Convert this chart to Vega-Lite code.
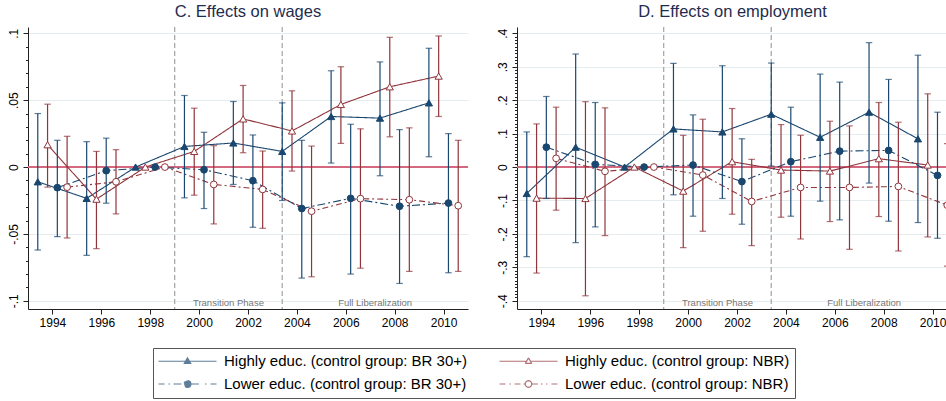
{
  "$schema": "https://vega.github.io/schema/vega-lite/v6.json",
  "padding": {"left": 7, "top": 3, "right": 0, "bottom": 0},
  "background": "white",
  "datasets": {
    "wages": [
      {"group": "Highly educ. (control group: BR 30+)", "year": 1993.4, "est": -0.011, "lo": -0.062, "hi": 0.04},
      {"group": "Highly educ. (control group: NBR)", "year": 1993.8, "est": 0.0167, "lo": -0.015, "hi": 0.047},
      {"group": "Lower educ. (control group: BR 30+)", "year": 1994.2, "est": -0.0154, "lo": -0.052, "hi": 0.02},
      {"group": "Lower educ. (control group: NBR)", "year": 1994.6, "est": -0.015, "lo": -0.053, "hi": 0.023},
      {"group": "Highly educ. (control group: BR 30+)", "year": 1995.4, "est": -0.0234, "lo": -0.066, "hi": 0.019},
      {"group": "Highly educ. (control group: NBR)", "year": 1995.8, "est": -0.024, "lo": -0.061, "hi": 0.0117},
      {"group": "Lower educ. (control group: BR 30+)", "year": 1996.2, "est": -0.0027, "lo": -0.027, "hi": 0.0216},
      {"group": "Lower educ. (control group: NBR)", "year": 1996.6, "est": -0.011, "lo": -0.035, "hi": 0.013},
      {"group": "Highly educ. (control group: BR 30+)", "year": 1997.4, "est": 0},
      {"group": "Highly educ. (control group: NBR)", "year": 1997.8, "est": 0},
      {"group": "Lower educ. (control group: BR 30+)", "year": 1998.2, "est": 0},
      {"group": "Lower educ. (control group: NBR)", "year": 1998.6, "est": 0},
      {"group": "Highly educ. (control group: BR 30+)", "year": 1999.4, "est": 0.0154, "lo": -0.023, "hi": 0.0535},
      {"group": "Highly educ. (control group: NBR)", "year": 1999.8, "est": 0.0117, "lo": -0.021, "hi": 0.044},
      {"group": "Lower educ. (control group: BR 30+)", "year": 2000.2, "est": -0.002, "lo": -0.031, "hi": 0.026},
      {"group": "Lower educ. (control group: NBR)", "year": 2000.6, "est": -0.013, "lo": -0.0425, "hi": 0.016},
      {"group": "Highly educ. (control group: BR 30+)", "year": 2001.4, "est": 0.018, "lo": -0.013, "hi": 0.049},
      {"group": "Highly educ. (control group: NBR)", "year": 2001.8, "est": 0.036, "lo": 0.0107, "hi": 0.061},
      {"group": "Lower educ. (control group: BR 30+)", "year": 2002.2, "est": -0.0102, "lo": -0.045, "hi": 0.024},
      {"group": "Lower educ. (control group: NBR)", "year": 2002.6, "est": -0.0167, "lo": -0.0458, "hi": 0.012},
      {"group": "Highly educ. (control group: BR 30+)", "year": 2003.4, "est": 0.0117, "lo": -0.025, "hi": 0.048},
      {"group": "Highly educ. (control group: NBR)", "year": 2003.8, "est": 0.027, "lo": -0.003, "hi": 0.057},
      {"group": "Lower educ. (control group: BR 30+)", "year": 2004.2, "est": -0.031, "lo": -0.083, "hi": 0.02},
      {"group": "Lower educ. (control group: NBR)", "year": 2004.6, "est": -0.033, "lo": -0.082, "hi": 0.0157},
      {"group": "Highly educ. (control group: BR 30+)", "year": 2005.4, "est": 0.0378, "lo": 0.003, "hi": 0.072},
      {"group": "Highly educ. (control group: NBR)", "year": 2005.8, "est": 0.0468, "lo": 0.0177, "hi": 0.075},
      {"group": "Lower educ. (control group: BR 30+)", "year": 2006.2, "est": -0.0234, "lo": -0.08, "hi": 0.032},
      {"group": "Lower educ. (control group: NBR)", "year": 2006.6, "est": -0.0236, "lo": -0.0756, "hi": 0.0286},
      {"group": "Highly educ. (control group: BR 30+)", "year": 2007.4, "est": 0.0366, "lo": -0.0065, "hi": 0.0786},
      {"group": "Highly educ. (control group: NBR)", "year": 2007.8, "est": 0.06, "lo": 0.0226, "hi": 0.097},
      {"group": "Lower educ. (control group: BR 30+)", "year": 2008.2, "est": -0.0293, "lo": -0.087, "hi": 0.028},
      {"group": "Lower educ. (control group: NBR)", "year": 2008.6, "est": -0.0244, "lo": -0.078, "hi": 0.0293},
      {"group": "Highly educ. (control group: BR 30+)", "year": 2009.4, "est": 0.048, "lo": 0.0077, "hi": 0.0888},
      {"group": "Highly educ. (control group: NBR)", "year": 2009.8, "est": 0.068, "lo": 0.0378, "hi": 0.098},
      {"group": "Lower educ. (control group: BR 30+)", "year": 2010.2, "est": -0.0269, "lo": -0.079, "hi": 0.025},
      {"group": "Lower educ. (control group: NBR)", "year": 2010.6, "est": -0.0289, "lo": -0.078, "hi": 0.02}
    ],
    "employment": [
      {"group": "Highly educ. (control group: BR 30+)", "year": 1993.4, "est": -0.079, "lo": -0.268, "hi": 0.105},
      {"group": "Highly educ. (control group: NBR)", "year": 1993.8, "est": -0.093, "lo": -0.317, "hi": 0.129},
      {"group": "Lower educ. (control group: BR 30+)", "year": 1994.2, "est": 0.0595, "lo": -0.094, "hi": 0.211},
      {"group": "Lower educ. (control group: NBR)", "year": 1994.6, "est": 0.026, "lo": -0.129, "hi": 0.179},
      {"group": "Highly educ. (control group: BR 30+)", "year": 1995.4, "est": 0.0595, "lo": -0.226, "hi": 0.338},
      {"group": "Highly educ. (control group: NBR)", "year": 1995.8, "est": -0.094, "lo": -0.385, "hi": 0.1955},
      {"group": "Lower educ. (control group: BR 30+)", "year": 1996.2, "est": 0.008, "lo": -0.179, "hi": 0.193},
      {"group": "Lower educ. (control group: NBR)", "year": 1996.6, "est": -0.0128, "lo": -0.205, "hi": 0.177},
      {"group": "Highly educ. (control group: BR 30+)", "year": 1997.4, "est": 0},
      {"group": "Highly educ. (control group: NBR)", "year": 1997.8, "est": 0},
      {"group": "Lower educ. (control group: BR 30+)", "year": 1998.2, "est": 0},
      {"group": "Lower educ. (control group: NBR)", "year": 1998.6, "est": 0},
      {"group": "Highly educ. (control group: BR 30+)", "year": 1999.4, "est": 0.114, "lo": -0.083, "hi": 0.31},
      {"group": "Highly educ. (control group: NBR)", "year": 1999.8, "est": -0.072, "lo": -0.241, "hi": 0.095},
      {"group": "Lower educ. (control group: BR 30+)", "year": 2000.2, "est": 0.006, "lo": -0.147, "hi": 0.156},
      {"group": "Lower educ. (control group: NBR)", "year": 2000.6, "est": -0.024, "lo": -0.192, "hi": 0.143},
      {"group": "Highly educ. (control group: BR 30+)", "year": 2001.4, "est": 0.105, "lo": -0.094, "hi": 0.303},
      {"group": "Highly educ. (control group: NBR)", "year": 2001.8, "est": 0.016, "lo": -0.141, "hi": 0.175},
      {"group": "Lower educ. (control group: BR 30+)", "year": 2002.2, "est": -0.0435, "lo": -0.171, "hi": 0.0845},
      {"group": "Lower educ. (control group: NBR)", "year": 2002.6, "est": -0.103, "lo": -0.235, "hi": 0.023},
      {"group": "Highly educ. (control group: BR 30+)", "year": 2003.4, "est": 0.158, "lo": 0.003, "hi": 0.311},
      {"group": "Highly educ. (control group: NBR)", "year": 2003.8, "est": -0.009, "lo": -0.15, "hi": 0.127},
      {"group": "Lower educ. (control group: BR 30+)", "year": 2004.2, "est": 0.016, "lo": -0.147, "hi": 0.179},
      {"group": "Lower educ. (control group: NBR)", "year": 2004.6, "est": -0.061, "lo": -0.215, "hi": 0.095},
      {"group": "Highly educ. (control group: BR 30+)", "year": 2005.4, "est": 0.089, "lo": -0.102, "hi": 0.278},
      {"group": "Highly educ. (control group: NBR)", "year": 2005.8, "est": -0.012, "lo": -0.163, "hi": 0.137},
      {"group": "Lower educ. (control group: BR 30+)", "year": 2006.2, "est": 0.0476, "lo": -0.158, "hi": 0.254},
      {"group": "Lower educ. (control group: NBR)", "year": 2006.6, "est": -0.061, "lo": -0.246, "hi": 0.123},
      {"group": "Highly educ. (control group: BR 30+)", "year": 2007.4, "est": 0.164, "lo": -0.048, "hi": 0.372},
      {"group": "Highly educ. (control group: NBR)", "year": 2007.8, "est": 0.025, "lo": -0.148, "hi": 0.193},
      {"group": "Lower educ. (control group: BR 30+)", "year": 2008.2, "est": 0.0497, "lo": -0.162, "hi": 0.262},
      {"group": "Lower educ. (control group: NBR)", "year": 2008.6, "est": -0.058, "lo": -0.251, "hi": 0.134},
      {"group": "Highly educ. (control group: BR 30+)", "year": 2009.4, "est": 0.0845, "lo": -0.166, "hi": 0.3345},
      {"group": "Highly educ. (control group: NBR)", "year": 2009.8, "est": 0.006, "lo": -0.209, "hi": 0.219},
      {"group": "Lower educ. (control group: BR 30+)", "year": 2010.2, "est": -0.025, "lo": -0.213, "hi": 0.164},
      {"group": "Lower educ. (control group: NBR)", "year": 2010.6, "est": -0.114, "lo": -0.296, "hi": 0.07}
    ],
    "phases": [
      {"label": "Transition Phase", "start": 1999, "mid": 2001.2},
      {"label": "Full Liberalization", "start": 2003.4, "mid": 2007.2}
    ],
    "zero": [{"v": 0}]
  },
  "hconcat": [
    {
      "width": 440,
      "height": 282,
      "title": {"text": "C. Effects on wages"},
      "resolve": {"axis": {"y": "independent"}},
      "layer": [
        {
          "data": {"name": "phases"},
          "mark": {"type": "rule", "strokeDash": [5, 3], "color": "#a9a9a9", "strokeWidth": 1.3},
          "encoding": {
            "x": {
              "field": "start", "type": "quantitative", "title": null,
              "scale": {"domain": [1993, 2011], "nice": false, "zero": false},
              "axis": {"values": [1994, 1996, 1998, 2000, 2002, 2004, 2006, 2008, 2010], "format": "d", "title": null, "grid": false, "tickSize": 5, "labelPadding": 3, "labelFlush": false}
            }
          }
        },
        {
          "data": {"name": "zero"},
          "mark": {"type": "rule", "color": "#d4687e", "strokeWidth": 2},
          "encoding": {
            "y": {
              "field": "v", "type": "quantitative",
              "scale": {"domain": [-0.1061, 0.1047], "nice": false, "zero": false},
              "axis": {"orient": "left", "values": [-0.09, -0.08, -0.07, -0.06, -0.04, -0.03, -0.02, -0.01, 0.01, 0.02, 0.03, 0.04, 0.06, 0.07, 0.08, 0.09], "labels": false, "domain": false, "grid": false, "tickSize": 2.5, "title": null}
            }
          }
        },
        {
          "data": {"name": "wages"},
          "mark": {"type": "line", "strokeWidth": 1.1},
          "encoding": {
            "x": {"field": "year", "type": "quantitative", "title": null},
            "y": {
              "field": "est", "type": "quantitative",
              "scale": {"domain": [-0.1061, 0.1047], "nice": false, "zero": false},
              "axis": {"orient": "left", "values": [-0.1, -0.05, 0, 0.05, 0.1], "labelExpr": "replace(toString(datum.value), '0.', '.')", "labelAngle": -90, "labelAlign": "center", "labelBaseline": "bottom", "labelPadding": 3, "tickSize": 5, "grid": true, "gridColor": "#e4ecef", "title": null}
            },
            "color": {
              "field": "group", "type": "nominal",
              "scale": {
                "domain": ["Highly educ. (control group: BR 30+)", "Highly educ. (control group: NBR)", "Lower educ. (control group: BR 30+)", "Lower educ. (control group: NBR)"],
                "range": ["#1a476f", "#90353b", "#1a476f", "#90353b"]
              },
              "legend": {
                "orient": "none", "legendX": 125, "legendY": 321, "title": null,
                "columns": 2, "direction": "horizontal",
                "labelFontSize": 15, "labelLimit": 500, "labelColor": "#000", "labelOffset": 29,
                "symbolSize": 16, "symbolStrokeWidth": 1.2, "symbolOffset": 21.5, "symbolOpacity": 1,
                "columnPadding": 29, "rowPadding": 7, "padding": 5.5, "strokeColor": "#555"
              }
            },
            "strokeDash": {
              "field": "group", "type": "nominal",
              "scale": {
                "domain": ["Highly educ. (control group: BR 30+)", "Highly educ. (control group: NBR)", "Lower educ. (control group: BR 30+)", "Lower educ. (control group: NBR)"],
                "range": [[1, 0], [1, 0], [8, 3, 2, 3], [6, 3, 2, 3]]
              },
              "legend": null
            }
          }
        },
        {
          "data": {"name": "wages"},
          "transform": [{"filter": "false"}],
          "mark": {"type": "point"},
          "encoding": {
            "x": {"field": "year", "type": "quantitative", "title": null},
            "y": {"field": "est", "type": "quantitative", "scale": {"domain": [-0.1061, 0.1047], "nice": false, "zero": false}, "axis": null},
            "shape": {
              "field": "group", "type": "nominal",
              "scale": {
                "domain": ["Highly educ. (control group: BR 30+)", "Highly educ. (control group: NBR)", "Lower educ. (control group: BR 30+)", "Lower educ. (control group: NBR)"],
                "range": [
                  "M-14.5,0H14.5M0,-1.7L1.6,1.1L-1.6,1.1Z",
                  "M-14.5,0H-1M1,0H14.5M0,-1.7L1.6,1.1M1.6,1.1L-1.6,1.1M-1.6,1.1L0,-1.7",
                  "M-14.5,0H-11.5M-9.5,0H-8.8M-7,0H-1.7M1.7,0H7M8.8,0H9.5M11.5,0H14.5M1.7,0A1.7,1.7,0,1,1,-1.7,0A1.7,1.7,0,1,1,1.7,0Z",
                  "M-14.5,0H-11.5M-9.5,0H-8.8M-7,0H-1.7M1.7,0H7M8.8,0H9.5M11.5,0H14.5M1.7,0L1.472,0.85M1.472,0.85L0.85,1.472M0.85,1.472L0,1.7M0,1.7L-0.85,1.472M-0.85,1.472L-1.472,0.85M-1.472,0.85L-1.7,0M-1.7,0L-1.472,-0.85M-1.472,-0.85L-0.85,-1.472M-0.85,-1.472L0,-1.7M0,-1.7L0.85,-1.472M0.85,-1.472L1.472,-0.85M1.472,-0.85L1.7,0"
                ]
              }
            }
          }
        },
        {
          "data": {"name": "wages"},
          "transform": [{"filter": "isValid(datum.lo)"}],
          "mark": {"type": "rule", "strokeWidth": 1.2},
          "encoding": {
            "x": {"field": "year", "type": "quantitative", "title": null},
            "y": {"field": "lo", "type": "quantitative", "scale": {"domain": [-0.1061, 0.1047], "nice": false, "zero": false}, "axis": null},
            "y2": {"field": "hi"},
            "color": {"field": "group", "type": "nominal"}
          }
        },
        {
          "data": {"name": "wages"},
          "transform": [{"filter": "isValid(datum.lo)"}],
          "mark": {"type": "tick", "orient": "horizontal", "size": 6.5, "thickness": 1.2},
          "encoding": {
            "x": {"field": "year", "type": "quantitative", "title": null},
            "y": {"field": "lo", "type": "quantitative", "scale": {"domain": [-0.1061, 0.1047], "nice": false, "zero": false}, "axis": null},
            "color": {"field": "group", "type": "nominal"}
          }
        },
        {
          "data": {"name": "wages"},
          "transform": [{"filter": "isValid(datum.lo)"}],
          "mark": {"type": "tick", "orient": "horizontal", "size": 6.5, "thickness": 1.2},
          "encoding": {
            "x": {"field": "year", "type": "quantitative", "title": null},
            "y": {"field": "hi", "type": "quantitative", "scale": {"domain": [-0.1061, 0.1047], "nice": false, "zero": false}, "axis": null},
            "color": {"field": "group", "type": "nominal"}
          }
        },
        {
          "data": {"name": "wages"},
          "transform": [{"filter": "indexof(datum.group, 'Highly') == 0"}],
          "mark": {"type": "point", "shape": "triangle-up", "filled": false, "size": 52, "strokeWidth": 1, "opacity": 1},
          "encoding": {
            "x": {"field": "year", "type": "quantitative", "title": null},
            "y": {"field": "est", "type": "quantitative", "scale": {"domain": [-0.1061, 0.1047], "nice": false, "zero": false}, "axis": null},
            "color": {"field": "group", "type": "nominal"},
            "fill": {
              "field": "group", "type": "nominal",
              "scale": {
                "domain": ["Highly educ. (control group: BR 30+)", "Highly educ. (control group: NBR)", "Lower educ. (control group: BR 30+)", "Lower educ. (control group: NBR)"],
                "range": ["#1a476f", "white", "#1a476f", "white"]
              }
            }
          }
        },
        {
          "data": {"name": "wages"},
          "transform": [{"filter": "indexof(datum.group, 'Lower') == 0"}],
          "mark": {"type": "point", "shape": "circle", "filled": false, "size": 46, "strokeWidth": 1, "opacity": 1},
          "encoding": {
            "x": {"field": "year", "type": "quantitative", "title": null},
            "y": {"field": "est", "type": "quantitative", "scale": {"domain": [-0.1061, 0.1047], "nice": false, "zero": false}, "axis": null},
            "color": {"field": "group", "type": "nominal"},
            "fill": {"field": "group", "type": "nominal"}
          }
        },
        {
          "data": {"name": "phases"},
          "mark": {"type": "text", "fontSize": 9.5, "color": "#777", "baseline": "bottom", "dy": -1},
          "encoding": {
            "x": {"field": "mid", "type": "quantitative", "title": null},
            "y": {"datum": -0.1061, "type": "quantitative", "scale": {"domain": [-0.1061, 0.1047], "nice": false, "zero": false}, "axis": null},
            "text": {"field": "label"}
          }
        }
      ]
    },
    {
      "width": 431,
      "height": 282,
      "title": {"text": "D. Effects on employment"},
      "resolve": {"axis": {"y": "independent"}},
      "layer": [
        {
          "data": {"name": "phases"},
          "mark": {"type": "rule", "strokeDash": [5, 3], "color": "#a9a9a9", "strokeWidth": 1.3},
          "encoding": {
            "x": {
              "field": "start", "type": "quantitative", "title": null,
              "scale": {"domain": [1993, 2010.63], "nice": false, "zero": false},
              "axis": {"values": [1994, 1996, 1998, 2000, 2002, 2004, 2006, 2008, 2010], "format": "d", "title": null, "grid": false, "tickSize": 5, "labelPadding": 3, "labelFlush": false}
            }
          }
        },
        {
          "data": {"name": "zero"},
          "mark": {"type": "rule", "color": "#d4687e", "strokeWidth": 2},
          "encoding": {
            "y": {
              "field": "v", "type": "quantitative",
              "scale": {"domain": [-0.4245, 0.4188], "nice": false, "zero": false},
              "axis": {"orient": "left", "values": [-0.39, -0.38, -0.37, -0.36, -0.35, -0.34, -0.33, -0.32, -0.31, -0.29, -0.28, -0.27, -0.26, -0.25, -0.24, -0.23, -0.22, -0.21, -0.19, -0.18, -0.17, -0.16, -0.15, -0.14, -0.13, -0.12, -0.11, -0.09, -0.08, -0.07, -0.06, -0.05, -0.04, -0.03, -0.02, -0.01, 0.01, 0.02, 0.03, 0.04, 0.05, 0.06, 0.07, 0.08, 0.09, 0.11, 0.12, 0.13, 0.14, 0.15, 0.16, 0.17, 0.18, 0.19, 0.21, 0.22, 0.23, 0.24, 0.25, 0.26, 0.27, 0.28, 0.29, 0.31, 0.32, 0.33, 0.34, 0.35, 0.36, 0.37, 0.38, 0.39], "labels": false, "domain": false, "grid": false, "tickSize": 2.5, "title": null}
            }
          }
        },
        {
          "data": {"name": "employment"},
          "mark": {"type": "line", "strokeWidth": 1.1, "clip": true},
          "encoding": {
            "x": {"field": "year", "type": "quantitative", "title": null},
            "y": {
              "field": "est", "type": "quantitative",
              "scale": {"domain": [-0.4245, 0.4188], "nice": false, "zero": false},
              "axis": {"orient": "left", "values": [-0.4, -0.3, -0.2, -0.1, 0, 0.1, 0.2, 0.3, 0.4], "labelExpr": "replace(toString(datum.value), '0.', '.')", "labelAngle": -90, "labelAlign": "center", "labelBaseline": "bottom", "labelPadding": 3, "tickSize": 5, "grid": true, "gridColor": "#e4ecef", "title": null}
            },
            "color": {"field": "group", "type": "nominal"},
            "strokeDash": {
              "field": "group", "type": "nominal",
              "scale": {
                "domain": ["Highly educ. (control group: BR 30+)", "Highly educ. (control group: NBR)", "Lower educ. (control group: BR 30+)", "Lower educ. (control group: NBR)"],
                "range": [[1, 0], [1, 0], [8, 3, 2, 3], [6, 3, 2, 3]]
              },
              "legend": null
            }
          }
        },
        {
          "data": {"name": "employment"},
          "transform": [{"filter": "isValid(datum.lo)"}],
          "mark": {"type": "rule", "strokeWidth": 1.2, "clip": true},
          "encoding": {
            "x": {"field": "year", "type": "quantitative", "title": null},
            "y": {"field": "lo", "type": "quantitative", "scale": {"domain": [-0.4245, 0.4188], "nice": false, "zero": false}, "axis": null},
            "y2": {"field": "hi"},
            "color": {"field": "group", "type": "nominal"}
          }
        },
        {
          "data": {"name": "employment"},
          "transform": [{"filter": "isValid(datum.lo)"}],
          "mark": {"type": "tick", "orient": "horizontal", "size": 6.5, "thickness": 1.2, "clip": true},
          "encoding": {
            "x": {"field": "year", "type": "quantitative", "title": null},
            "y": {"field": "lo", "type": "quantitative", "scale": {"domain": [-0.4245, 0.4188], "nice": false, "zero": false}, "axis": null},
            "color": {"field": "group", "type": "nominal"}
          }
        },
        {
          "data": {"name": "employment"},
          "transform": [{"filter": "isValid(datum.lo)"}],
          "mark": {"type": "tick", "orient": "horizontal", "size": 6.5, "thickness": 1.2, "clip": true},
          "encoding": {
            "x": {"field": "year", "type": "quantitative", "title": null},
            "y": {"field": "hi", "type": "quantitative", "scale": {"domain": [-0.4245, 0.4188], "nice": false, "zero": false}, "axis": null},
            "color": {"field": "group", "type": "nominal"}
          }
        },
        {
          "data": {"name": "employment"},
          "transform": [{"filter": "indexof(datum.group, 'Highly') == 0"}],
          "mark": {"type": "point", "shape": "triangle-up", "filled": false, "size": 52, "strokeWidth": 1, "opacity": 1, "clip": true},
          "encoding": {
            "x": {"field": "year", "type": "quantitative", "title": null},
            "y": {"field": "est", "type": "quantitative", "scale": {"domain": [-0.4245, 0.4188], "nice": false, "zero": false}, "axis": null},
            "color": {"field": "group", "type": "nominal"},
            "fill": {"field": "group", "type": "nominal"}
          }
        },
        {
          "data": {"name": "employment"},
          "transform": [{"filter": "indexof(datum.group, 'Lower') == 0"}],
          "mark": {"type": "point", "shape": "circle", "filled": false, "size": 46, "strokeWidth": 1, "opacity": 1, "clip": true},
          "encoding": {
            "x": {"field": "year", "type": "quantitative", "title": null},
            "y": {"field": "est", "type": "quantitative", "scale": {"domain": [-0.4245, 0.4188], "nice": false, "zero": false}, "axis": null},
            "color": {"field": "group", "type": "nominal"},
            "fill": {"field": "group", "type": "nominal"}
          }
        },
        {
          "data": {"name": "phases"},
          "mark": {"type": "text", "fontSize": 9.5, "color": "#777", "baseline": "bottom", "dy": -1},
          "encoding": {
            "x": {"field": "mid", "type": "quantitative", "title": null},
            "y": {"datum": -0.4245, "type": "quantitative", "scale": {"domain": [-0.4245, 0.4188], "nice": false, "zero": false}, "axis": null},
            "text": {"field": "label"}
          }
        }
      ]
    }
  ],
  "spacing": 27,
  "resolve": {"scale": {"color": "shared", "shape": "shared", "fill": "shared", "strokeDash": "shared"}},
  "config": {
    "font": "Liberation Sans",
    "view": {"stroke": null},
    "title": {"fontSize": 16.5, "fontWeight": "normal", "color": "#1f2c4f", "font": "Liberation Sans", "offset": 6, "anchor": "middle", "frame": "group"},
    "axis": {"labelFont": "Liberation Sans", "labelFontSize": 12, "labelColor": "#000", "domainColor": "#222", "tickColor": "#222", "domainWidth": 1, "tickWidth": 1},
    "legend": {"labelFont": "Liberation Sans"}
  }
}
